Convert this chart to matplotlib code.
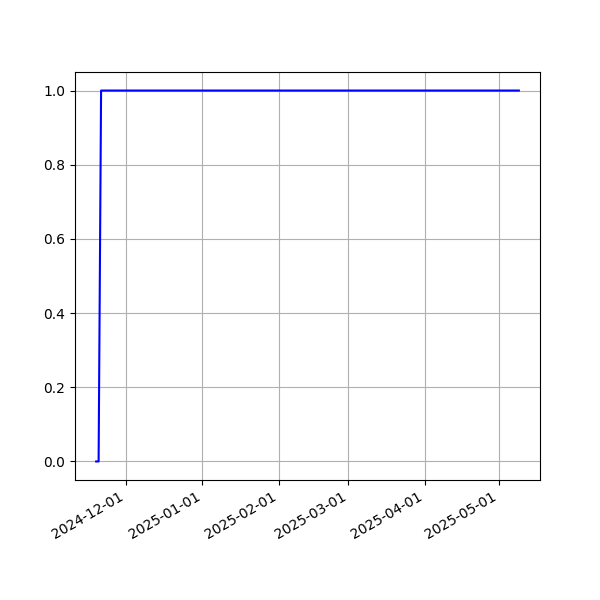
import pandas as pd
import matplotlib
matplotlib.use('Agg')
from matplotlib import pyplot as plt
import matplotlib.dates as mdates

dates = pd.to_datetime(['2024-11-19', '2024-11-20', '2024-11-21', '2025-05-09'])
values = [0, 0, 1, 1]

fig, ax = plt.subplots(figsize=(6, 6), dpi=100)
ax.plot(dates, values, color='blue')
ax.xaxis.set_major_formatter(mdates.DateFormatter('%Y-%m-%d'))
ax.grid(True)
fig.autofmt_xdate()
fig.savefig('out.png')
